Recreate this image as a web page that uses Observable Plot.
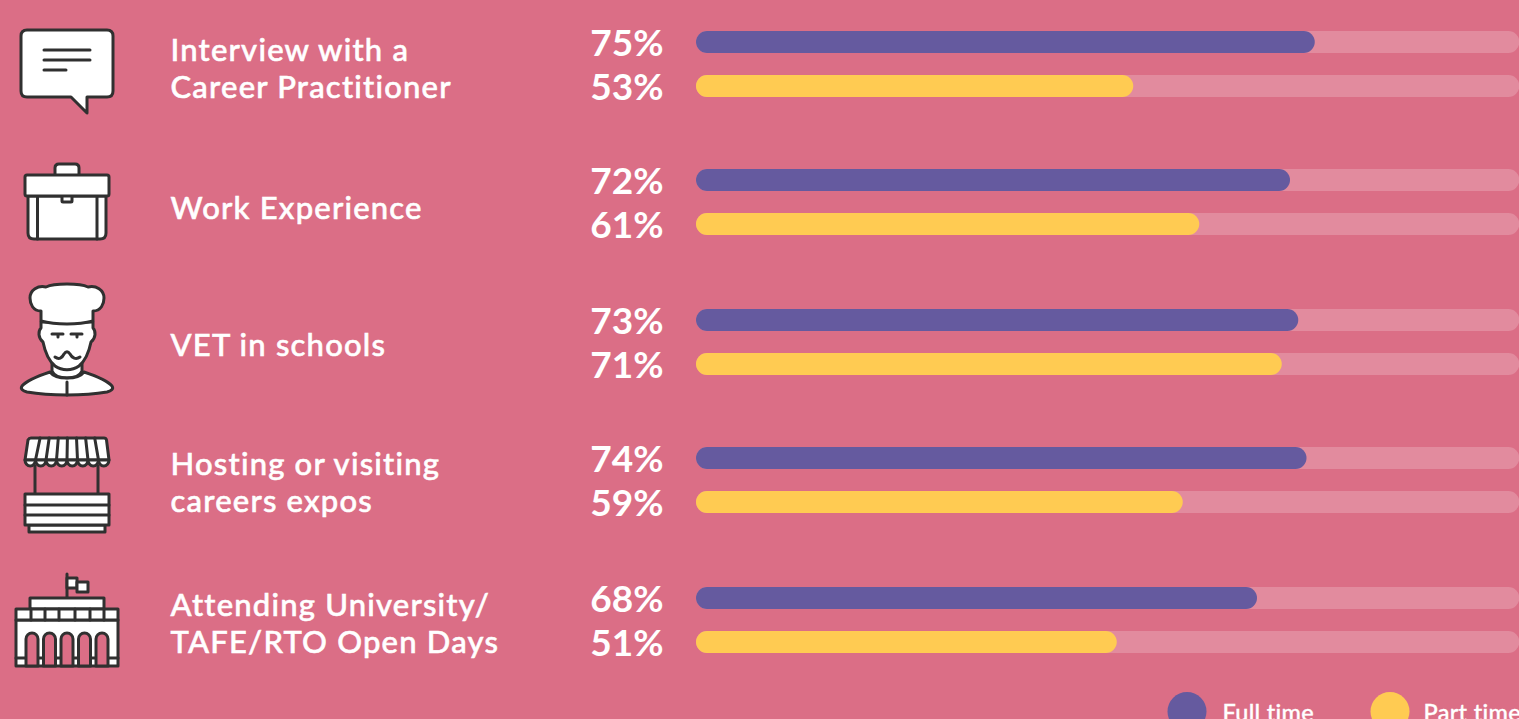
<!DOCTYPE html>
<html>
<head>
<meta charset="utf-8">
<script src="https://cdn.jsdelivr.net/npm/d3@7"></script>
<script src="https://cdn.jsdelivr.net/npm/@observablehq/plot@0.6"></script>
<style>
html,body{margin:0;padding:0;background:#DB6E86;overflow:hidden}
svg{display:block}
.cat text{letter-spacing:1.2px;font-variant-ligatures:none;stroke:#fff;stroke-width:.55px}
.leg text{letter-spacing:.3px;font-variant-ligatures:none;stroke:#fff;stroke-width:.35px}
</style>
</head>
<body>
<div id="chart"></div>
<script>
const categories = ["Interview with a\nCareer Practitioner","Work Experience","VET in schools","Hosting or visiting\ncareers expos","Attending University/\nTAFE/RTO Open Days"];
const fullTime = [75,72,73,74,68];
const partTime = [53,61,71,59,51];
const seriesNames = ["Full time","Part time"];

const PINK="#DB6E86", PURPLE="#655A9F", YELLOW="#FFCB52", INK="#303030";
const FONT="Lato, 'Open Sans', sans-serif";
const groupCenters=[64,202,342,480,620];
const labelCenters=[67,207,344,481,622];
const barOffset=22, barHalf=11;

const rows=categories.flatMap((c,i)=>[
  {category:c,series:seriesNames[0],value:fullTime[i],y:groupCenters[i]-barOffset},
  {category:c,series:seriesNames[1],value:partTime[i],y:groupCenters[i]+barOffset}
]);
const groups=categories.map((c,i)=>({category:c,y:labelCenters[i]}));
const legend=[{name:seriesNames[0],cx:1186.5,tx:1222},{name:seriesNames[1],cx:1389.5,tx:1423}];
const color=d3.scaleOrdinal(seriesNames,[PURPLE,YELLOW]);

function icons(){
  const g=d3.create("svg:g").attr("fill","#fff").attr("stroke",INK).attr("stroke-width",3)
    .attr("stroke-linejoin","round").attr("stroke-linecap","round");
  const p=(d,fill)=>{const e=g.append("path").attr("d",d); if(fill) e.attr("fill",fill); return e;};
  // speech bubble
  p("M27,30H107Q113,30 113,36V91Q113,97 107,97H87V113L71,97H27Q21,97 21,91V36Q21,30 27,30Z");
  p("M44,50H90M44,60H90M44,70H66","none");
  // briefcase
  p("M55,175V168Q55,164 59,164H75Q79,164 79,168V175");
  p("M28,196H106V233Q106,239 100,239H34Q28,239 28,233Z");
  p("M37.5,196V239M97,196V239","none");
  p("M62,196V201Q62,202 63,202H71Q72,202 72,201V196");
  p("M27,175H107Q109,175 109,177V194Q109,196 107,196H27Q25,196 25,194V177Q25,175 27,175Z");
  // chef: shoulders, face, hat
  p("M50,372C38,376 27,380 22,386C20,389 23,391 27,392C50,396 84,396 107,392C111,391 114,389 112,386C107,380 96,376 84,372C78,380 56,380 50,372Z");
  p("M67,382V395","none");
  p("M52,362V371C56,380 78,380 82,371V362Z");
  p("M41,322V328C38,331 38,338 43,342C45,352 49,361 55,366C62,371 72,371 79,366C85,361 89,352 91,342C96,338 96,331 93,328V322Z");
  p("M52,334H63M71,334H82M58,334V337M77,334V337M55,357C59,360 62,358 64,354C66,351 68,351 70,354C72,358 76,360 80,357","none");
  p("M41,311C33,311 30,304 30,298C30,290 38,285 46,287C52,284 60,284 67,284C74,284 82,284 88,287C96,285 104,290 104,298C104,304 101,311 93,311V321C78,325 56,325 41,321Z");
  // stall
  p("M35,466V494M98,466V494","none");
  p("M29,525H105V532H29Z");
  p("M25,494H109V525H25Z");
  p("M25,505H109M25,515H109","none");
  p("M31,438H104Q106,438 106.500,440L109,460H25L28,440Q29,438 31,438Z");
  const sc=d3.range(8).map(i=>25+i*10.5);
  for(const x of sc) p(`M${x},460A5.25,6 0 0 0 ${x+10.5},460Z`);
  for(let i=1;i<8;i++) p(`M${31+i*9.1},438L${25+i*10.5},460`,"none");
  // building
  p("M67,598V574","none");
  p("M67,578H77V588H67Z");
  p("M77,582H88V592H77Z");
  p("M30,598H104V609H30Z");
  p("M16,620H118V666H16Z");
  p("M16,609H118V620H16Z");
  p("M31,609V620M45,609V620M59,609V620M75,609V620M90,609V620M104,609V620","none");
  p("M16,658H118","none");
  for(const x of [32,49.500,67,84.500,102]) p(`M${x-6},666V639A6,6 0 0 1 ${x+6},639V666Z`,PINK);
  return g.node();
}

const plot=Plot.plot({
  width:1519,height:719,
  marginTop:0,marginRight:0,marginBottom:0,marginLeft:0,
  x:{domain:[0,100],range:[696,1521],axis:null},
  y:{domain:[0,719],range:[0,719],axis:null},
  style:{background:PINK,fontFamily:FONT,overflow:"hidden"},
  marks:[
    Plot.rect(rows,{x1:0,x2:99.8,y1:d=>d.y-barHalf,y2:d=>d.y+barHalf,fill:"#fff",fillOpacity:0.2,rx:barHalf}),
    Plot.rect(rows,{x1:0,x2:"value",y1:d=>d.y-barHalf,y2:d=>d.y+barHalf,fill:d=>color(d.series),rx:barHalf}),
    Plot.text(rows,{x:-4,y:"y",text:d=>d.value+"%",textAnchor:"end",fill:"#fff",fontSize:37,fontWeight:700,fontFamily:FONT,dy:2,className:"num"}),
    Plot.text(groups,{frameAnchor:"left",dx:170,y:"y",text:"category",textAnchor:"start",fill:"#fff",fontSize:31,fontWeight:500,fontFamily:FONT,lineHeight:1.2,className:"cat"}),
    Plot.dot(legend,{x:d=>(d.cx-696)/8.25,y:()=>711,r:19.5,fill:d=>color(d.name)}),
    Plot.text(legend,{x:d=>(d.tx-696)/8.25,y:()=>713,text:"name",textAnchor:"start",fill:"#fff",fontSize:23.5,fontWeight:500,fontFamily:FONT,className:"leg"}),
    icons
  ]
});
document.getElementById("chart").append(plot);
</script>
</body>
</html>
